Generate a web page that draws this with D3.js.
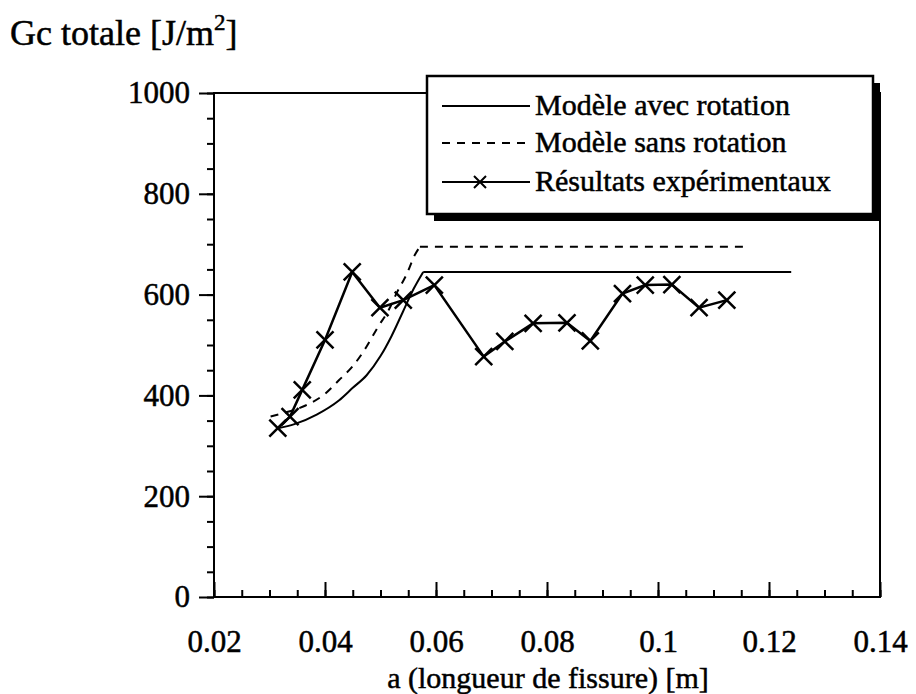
<!DOCTYPE html>
<html>
<head>
<meta charset="utf-8">
<script src="https://cdn.jsdelivr.net/npm/d3@7"></script>
<style>
  body { margin: 0; background: #fff; }
  text { font-family: "Liberation Serif", "Times New Roman", serif; fill: #000; stroke: #000; stroke-width: 0.5px; }
</style>
</head>
<body>
<script>
// model with rotation (solid) : crack length [m], Gc [J/m2]
var avecA = [0.0315, 0.0345, 0.0385, 0.0425, 0.045, 0.0475, 0.05, 0.052, 0.054, 0.056, 0.0577, 0.124];
var avecG = [335, 343, 362, 390, 415, 440, 478, 518, 565, 612, 645, 645];

// model without rotation (dashed)
var sansA = [0.0302, 0.0335, 0.0365, 0.040, 0.0425, 0.045, 0.0475, 0.0495, 0.0515, 0.053, 0.0547, 0.0562, 0.0571, 0.1165];
var sansG = [358, 368, 380, 403, 430, 458, 497, 535, 570, 605, 640, 679, 695, 695];

// experimental results (crosses)
var expA = [0.0315, 0.0337, 0.0359, 0.0400, 0.0449, 0.0499, 0.0541, 0.0597, 0.0686, 0.0724, 0.0775, 0.0836, 0.0878, 0.0936, 0.0977, 0.1025, 0.1074, 0.1124];
var expG = [335, 358, 411, 510, 645, 574, 589, 619, 477, 507, 543, 544, 508, 602, 619, 620, 574, 589];

var xTicks = [0.02, 0.04, 0.06, 0.08, 0.1, 0.12, 0.14];
var yTicks = [0, 200, 400, 600, 800, 1000];
var legendLabels = ["Modèle avec rotation", "Modèle sans rotation", "Résultats expérimentaux"];

var W = 916, H = 694;
var pLeft = 214, pRight = 880, pTop = 93, pBottom = 597;

var svg = d3.select("body").append("svg").attr("width", W).attr("height", H);

var x = d3.scaleLinear().domain([0.02, 0.14]).range([pLeft, pRight]);
var y = d3.scaleLinear().domain([0, 1000]).range([pBottom, pTop]);

function zip(a, g){ return a.map(function(v,i){ return [v, g[i]]; }); }

// frame
svg.append("rect").attr("x", pLeft).attr("y", pTop).attr("width", pRight-pLeft).attr("height", pBottom-pTop)
  .attr("fill", "none").attr("stroke", "#000").attr("stroke-width", 2);

// x axis: majors and minors, ticks pointing inside
var minorX = d3.range(0, 25).map(function(i){ return 0.02 + i*0.005; });
var gxMinor = svg.append("g").attr("transform", "translate(0," + pBottom + ")")
  .call(d3.axisBottom(x).tickValues(minorX).tickSize(-7).tickSizeOuter(0).tickFormat(""));
var gx = svg.append("g").attr("transform", "translate(0," + pBottom + ")")
  .call(d3.axisBottom(x).tickValues(xTicks).tickSize(-15).tickSizeOuter(0).tickPadding(33).tickFormat(function(d){ return String(+d.toFixed(2)); }));

// y axis: ticks pointing outside
var minorY = d3.range(0, 1001, 50);
var gyMinor = svg.append("g").attr("transform", "translate(" + pLeft + ",0)")
  .call(d3.axisLeft(y).tickValues(minorY).tickSize(7).tickSizeOuter(0).tickFormat(""));
var gy = svg.append("g").attr("transform", "translate(" + pLeft + ",0)")
  .call(d3.axisLeft(y).tickValues(yTicks).tickSize(15).tickSizeOuter(0).tickPadding(9).tickFormat(d3.format("d")));

[gx, gxMinor, gy, gyMinor].forEach(function(g){
  g.select(".domain").remove();
  g.selectAll("line").attr("stroke", "#000").attr("stroke-width", 2);
  g.selectAll("text").attr("font-size", 31).attr("font-family", null);
});

// titles
var yt = svg.append("text").attr("x", 10).attr("y", 45).attr("font-size", 36);
yt.append("tspan").text("Gc totale [J/m");
yt.append("tspan").attr("font-size", 23).attr("dy", -15).text("2");
yt.append("tspan").attr("dy", 15).text("]");

svg.append("text").attr("x", (pLeft+pRight)/2 + 1).attr("y", 688).attr("text-anchor", "middle")
  .attr("font-size", 30).text("a (longueur de fissure) [m]");

// curves
var line = d3.line().x(function(d){ return x(d[0]); }).y(function(d){ return y(d[1]); });
var smooth = d3.line().x(function(d){ return x(d[0]); }).y(function(d){ return y(d[1]); }).curve(d3.curveMonotoneX);

function drawModel(pts, dash){
  var n = pts.length;
  var g = svg.append("g").attr("fill", "none").attr("stroke", "#000").attr("stroke-width", 2);
  if (dash) g.attr("stroke-dasharray", dash);
  g.append("path").attr("d", smooth(pts.slice(0, n-1)));
  g.append("path").attr("d", line(pts.slice(n-2)));
}
drawModel(zip(avecA, avecG), null);
drawModel(zip(sansA, sansG), "8,7");

var expPts = zip(expA, expG);
svg.append("path").attr("d", line(expPts)).attr("fill", "none").attr("stroke", "#000").attr("stroke-width", 2.5);

function cross(r){ return "M" + (-r) + "," + (-r) + "L" + r + "," + r + "M" + (-r) + "," + r + "L" + r + "," + (-r); }
svg.selectAll(".mk").data(expPts).enter().append("path").attr("class", "mk")
  .attr("transform", function(d){ return "translate(" + x(d[0]) + "," + y(d[1]) + ")"; })
  .attr("d", cross(8.5)).attr("stroke", "#000").attr("stroke-width", 2.5).attr("fill", "none");

// legend with drop shadow
var lg = svg.append("g");
lg.append("rect").attr("x", 434).attr("y", 83).attr("width", 446).attr("height", 138).attr("fill", "#000");
lg.append("rect").attr("x", 427).attr("y", 76).attr("width", 446).attr("height", 138)
  .attr("fill", "#fff").attr("stroke", "#000").attr("stroke-width", 2.5);

var rowY = [106, 143, 182];
legendLabels.forEach(function(lab, i){
  var l = lg.append("line").attr("x1", 442).attr("x2", 530).attr("y1", rowY[i]).attr("y2", rowY[i])
    .attr("stroke", "#000").attr("stroke-width", 2);
  if (i == 1) l.attr("stroke-dasharray", "8,7");
  if (i == 2) lg.append("path").attr("transform", "translate(480," + rowY[i] + ")").attr("d", cross(6))
    .attr("stroke", "#000").attr("stroke-width", 2).attr("fill", "none");
  lg.append("text").attr("x", 535).attr("y", rowY[i] + 9).attr("font-size", 30).text(lab);
});
</script>
</body>
</html>
